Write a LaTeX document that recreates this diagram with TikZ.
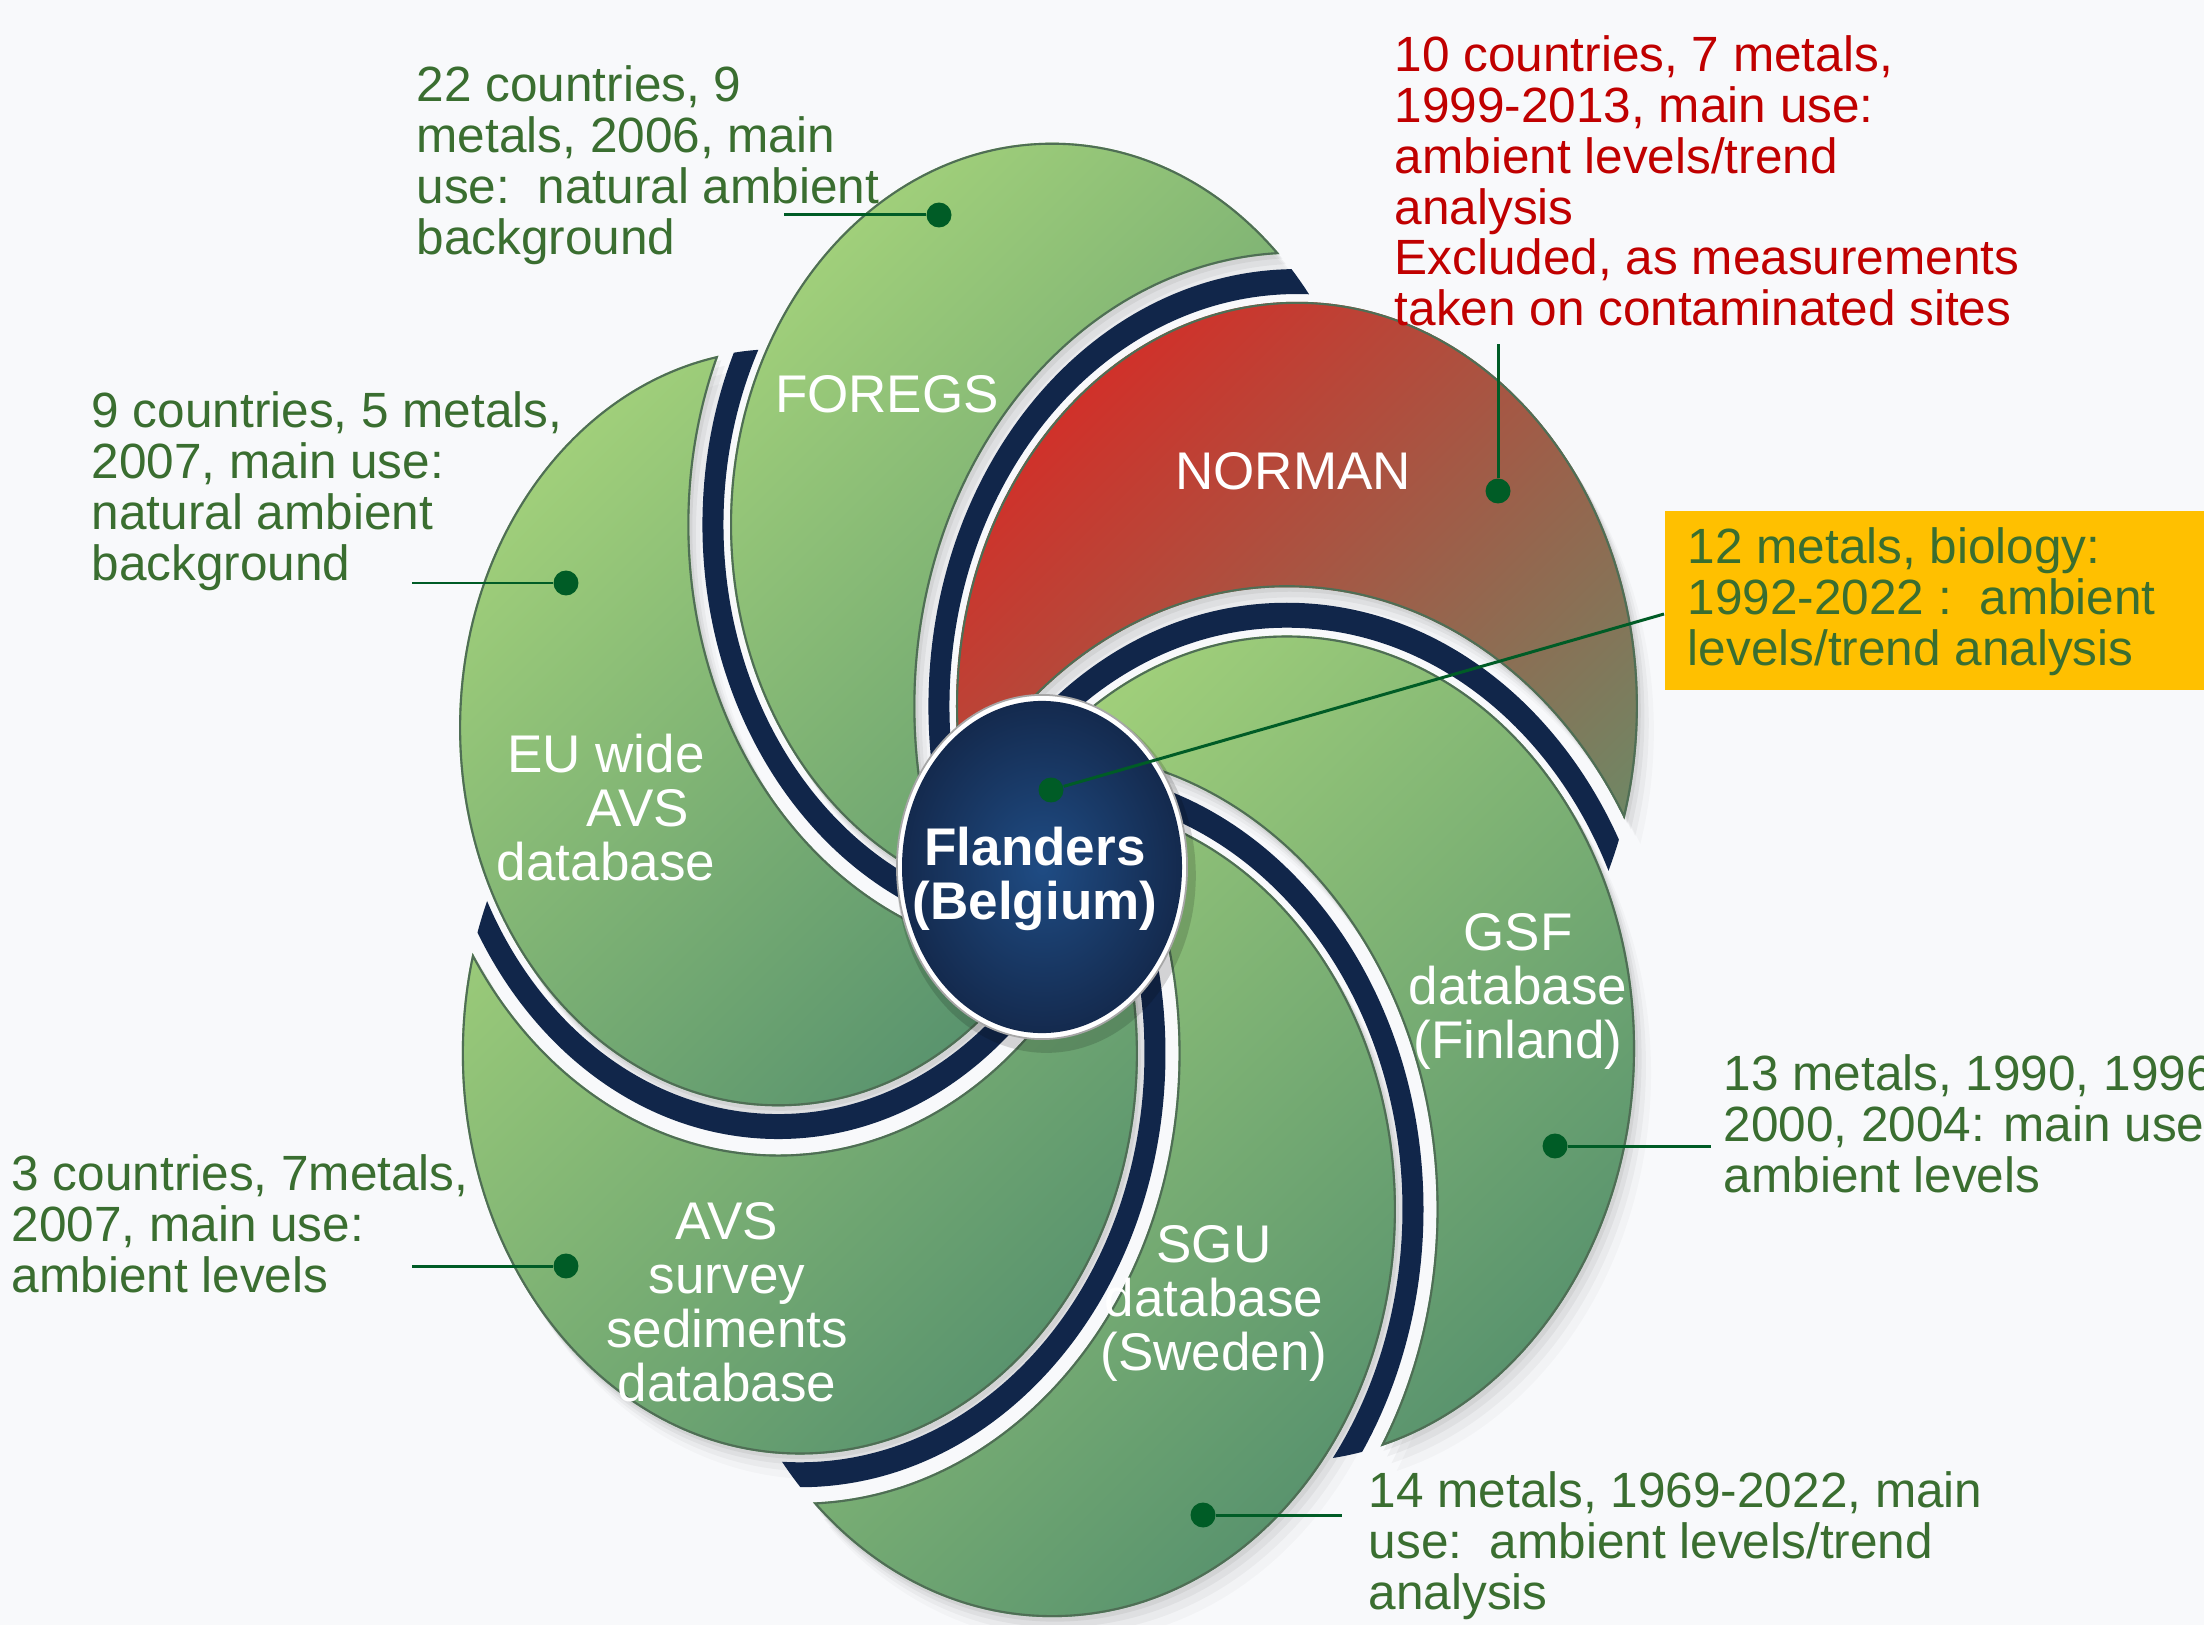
\documentclass[tikz,border=0pt]{standalone}
\usepackage{fontspec}
\setmainfont{Liberation Sans}
\definecolor{bgcol}{HTML}{F8F9FB}
\definecolor{navyband}{HTML}{11264A}
\definecolor{glight}{HTML}{A0CF7A}
\definecolor{gdark}{HTML}{5A946E}
\definecolor{rlight}{HTML}{D0312A}
\definecolor{rmid}{HTML}{A8604A}
\definecolor{rdark}{HTML}{678F6A}
\definecolor{tgreen}{HTML}{3A6E30}
\definecolor{tred}{HTML}{C00000}
\definecolor{ptcol}{HTML}{005C26}
\definecolor{yboxcol}{HTML}{FFC000}
\definecolor{cin}{HTML}{1F4C84}
\definecolor{cout}{HTML}{142A4E}
\definecolor{edgecol}{HTML}{4F6E55}

\newcommand{\dd}{1.99}
\newcommand{\gp}{0.28}
% crescent clip: #1 angle, #2 radius, #3 cutter angle, #4 cutter radius
\newcommand{\crescentclip}[4]{%
  \clip (#1:\dd) circle[radius=#2];
  \clip (-7,-7) -- (-7,7) -- (7,7) -- (7,-7) -- cycle (#3:\dd) circle[radius=#4+\gp];}
\newcommand{\bandk}[4]{%
  \begin{scope}
   \clip (#3:\dd) circle[radius=#4];
   \fill[navyband,even odd rule] (#1:\dd) circle[radius=#2+0.045] (#1:\dd) circle[radius=#2+0.19];
  \end{scope}}
\newcommand{\petalshadow}[4]{%
  \foreach \s/\o in {0.02/0.05,0.045/0.045,0.075/0.035,0.11/0.025}{%
   \begin{scope}[shift={(\s,-1.3*\s)}]
    \crescentclip{#1}{#2}{#3}{#4}
    \fill[black,opacity=\o] (-7,-7) rectangle (7,7);
   \end{scope}}}
\newcommand{\petalk}[5]{%
  \begin{scope}
   \crescentclip{#1}{#2}{#3}{#4}
   \shade[#5] (#1:\dd) circle[radius=#2];
   \draw[edgecol,line width=1.2pt] (#1:\dd) circle[radius=#2] (#3:\dd) circle[radius=#4+\gp];
  \end{scope}}

\tikzset{
  gshade/.style={top color=glight, bottom color=gdark, shading angle=45},
  rshade/.style={top color=rlight, middle color=rmid, bottom color=rdark, shading angle=45},
  petallabel/.style={text=white, font=\fontsize{15.08pt}{15.36pt}\selectfont, align=center, inner sep=0pt},
  annot/.style={text=tgreen, font=\fontsize{14.08pt}{14.45pt}\selectfont, align=left, anchor=north west, inner sep=0pt},
  pointer/.style={draw=ptcol, line width=0.85pt},
  dot/.style={circle, fill=ptcol, minimum size=7.1pt, inner sep=0pt},
}

\begin{document}
\begin{tikzpicture}[x=0.01cm,y=-0.01cm]
\fill[bgcol] (0,0) rectangle (2204,1625);
\useasboundingbox (0,0) rectangle (2204,1625);

\begin{scope}[shift={(1042,867)},x=1.45cm,y=1.72cm]
 % angles: N=28, F=88, E=156, A=213, S=272, G=328
 % radii:  N=2.35, F=2.22, E=2.20, A=2.33, S=2.37, G=2.40
 \petalshadow{28}{2.35}{328}{2.40}
 \petalshadow{88}{2.22}{28}{2.35}
 \petalshadow{156}{2.20}{88}{2.22}
 \petalshadow{213}{2.33}{156}{2.20}
 \petalshadow{272}{2.37}{213}{2.33}
 \petalshadow{328}{2.40}{272}{2.37}
 % navy bands: band of k lies inside disk of k+1
 \bandk{28}{2.35}{88}{2.22}
 \bandk{88}{2.22}{156}{2.20}
 \bandk{156}{2.20}{213}{2.33}
 \bandk{213}{2.33}{272}{2.37}
 \bandk{272}{2.37}{328}{2.40}
 \bandk{328}{2.40}{28}{2.35}
 % petals
 \petalk{28}{2.35}{328}{2.40}{rshade}
 \petalk{88}{2.22}{28}{2.35}{gshade}
 \petalk{156}{2.20}{88}{2.22}{gshade}
 \petalk{213}{2.33}{156}{2.20}{gshade}
 \petalk{272}{2.37}{213}{2.33}{gshade}
 \petalk{328}{2.40}{272}{2.37}{gshade}
 % centre
 \fill[black,opacity=0.15] (0.03,-0.05) circle[radius=1.03];
 \fill[white] (0,0) circle[radius=1];
 \draw[black!35,line width=0.5pt] (0,0) circle[radius=1];
 \shade[inner color=cin, outer color=cout] (0,0) circle[radius=0.965];
\end{scope}

% petal labels
\node[petallabel] (lFOREGS) at (887,394) {FOREGS};
\node[petallabel] (lNORMAN) at (1293,471) {NORMAN};
\node[petallabel] (lEU) at (606,808) {EU wide\\\hspace*{18pt}AVS\\database};
\node[petallabel] (lGSF) at (1518,991) {GSF\\database\\(Finland)};
\node[petallabel] (lSGU) at (1214,1303) {SGU\\database\\(Sweden)};
\node[petallabel] (lAVS) at (727,1302) {AVS\\survey\\sediments\\database};
\node[petallabel, font=\bfseries\fontsize{15.08pt}{15.2pt}\selectfont] (lFlanders) at (1035,879) {Flanders\\(Belgium)};

% annotations
\node[annot] (aF) at (416,65) {22 countries, 9\\metals, 2006, main\\use:\ \ natural ambient\\background};
\node[annot, text=tred] (aN) at (1394,35) {10 countries, 7 metals,\\1999-2013, main use:\\ambient levels/trend\\analysis\\Excluded, as measurements\\taken on contaminated sites};
\node[annot] (aE) at (91,391) {9 countries, 5 metals,\\2007, main use:\\natural ambient\\background};
\node[annot] (aA) at (11,1154) {3 countries, 7metals,\\2007, main use:\\ambient levels};
\node[annot] (aS) at (1368,1471) {14 metals, 1969-2022, main\\use:\ \ ambient levels/trend\\analysis};
\node[fill=yboxcol, anchor=north west, minimum width=540*0.01cm, minimum height=179*0.01cm, inner sep=0pt] (ybox) at (1664,510) {};
\node[annot] (aC) at (1687,527) {12 metals, biology:\\1992-2022 :\ \ ambient\\levels/trend analysis};
\begin{scope}
 \clip (0,0) rectangle (2204,1625);
 \node[annot] (aG) at (1723,1054) {13 metals, 1990, 1996\\2000, 2004: main use:\\ambient levels};
\end{scope}

% pointers
\node[dot] (dF) at (939,215) {};
\coordinate (eF) at (784,215);
\draw[pointer] (dF) -- (eF);
\node[dot] (dN) at (1498,491) {};
\coordinate (eN) at (1498,344);
\draw[pointer] (dN) -- (eN);
\node[dot] (dE) at (566,583) {};
\coordinate (eE) at (412,583);
\draw[pointer] (dE) -- (eE);
\node[dot] (dC) at (1051,790) {};
\coordinate (eC) at (1664,614);
\draw[pointer] (dC) -- (eC);
\node[dot] (dG) at (1555,1146) {};
\coordinate (eG) at (1711,1146);
\draw[pointer] (dG) -- (eG);
\node[dot] (dS) at (1203,1515) {};
\coordinate (eS) at (1342,1515);
\draw[pointer] (dS) -- (eS);
\node[dot] (dA) at (566,1266) {};
\coordinate (eA) at (412,1266);
\draw[pointer] (dA) -- (eA);
\end{tikzpicture}
\end{document}
